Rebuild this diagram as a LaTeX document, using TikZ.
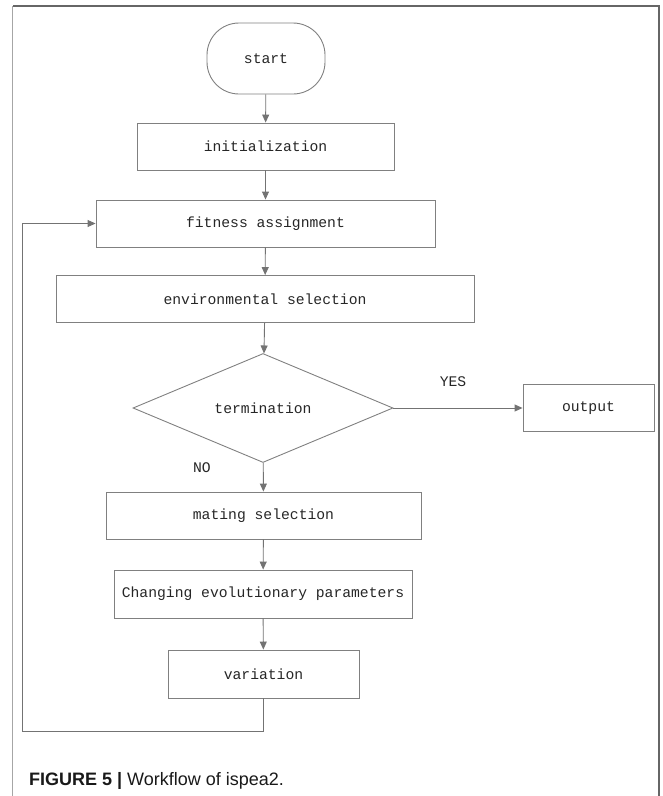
\documentclass[tikz,border=0pt]{standalone}
\usepackage{fontspec}
\setmainfont{Liberation Sans}
\setmonofont{Liberation Mono}
\usetikzlibrary{shapes.geometric,arrows.meta}
\begin{document}
\begin{tikzpicture}[x=1pt,y=-1pt]
    \tikzstyle{every node}+=[inner sep=0pt, font=\fontsize{14.7}{16}\selectfont\ttfamily, text=black!85]
    \tikzstyle{stepbox}=[draw=black!50, line width=0.9pt, minimum height=47pt]
    \tikzstyle{flow}=[draw=black!55, line width=0.9pt, -{Triangle[length=8pt,width=7pt]}]
    \useasboundingbox (0,0) rectangle (663,796);
    \draw [black!60, line width=1.3pt] (659,796) -- (659,6) -- (12.5,6);
    \draw [black!35, line width=1.3pt] (12.5,6) -- (12.5,796);
    \node [stepbox, rounded corners=32pt, minimum width=118pt, minimum height=71pt] (start) at (266,58.5) {start};
    \node [stepbox, minimum width=257pt] (init) at (265.5,146.5) {initialization};
    \node [stepbox, minimum width=339pt] (fit) at (265.5,223.5) {fitness assignment};
    \node [stepbox, minimum width=418pt] (env) at (265,299) {environmental selection};
    \node [stepbox, diamond, aspect=2.385, minimum width=260pt, minimum height=109pt] (term) at (263,408) {termination};
    \node [stepbox, minimum width=131pt] (out) at (588.5,408) {output};
    \node [stepbox, minimum width=315pt] (mate) at (263.5,515.5) {mating selection};
    \node [stepbox, minimum width=298pt, minimum height=48pt] (chg) at (263,594) {Changing evolutionary parameters};
    \node [stepbox, minimum width=191pt, minimum height=48pt] (var) at (263.5,674) {variation};
    \node (yes) at (453,382) {YES};
    \node (no) at (202,468) {NO};
    \coordinate (lp) at (22,731);
    \draw [flow] (start) -- (init);
    \draw [flow] (init) -- (fit);
    \draw [flow] (fit) -- (env);
    \draw [flow] (env) -- (term);
    \draw [flow] (term) -- (out);
    \draw [flow] (term) -- (mate);
    \draw [flow] (mate) -- (chg);
    \draw [flow] (chg) -- (var);
    \draw [flow] (var) |- (lp) |- (fit.west);
    \node [anchor=base west, font=\fontsize{18}{20}\selectfont, text=black!90] (cap) at (29,785) {\textbf{FIGURE 5 |} Workflow of ispea2.};
\end{tikzpicture}
\end{document}
